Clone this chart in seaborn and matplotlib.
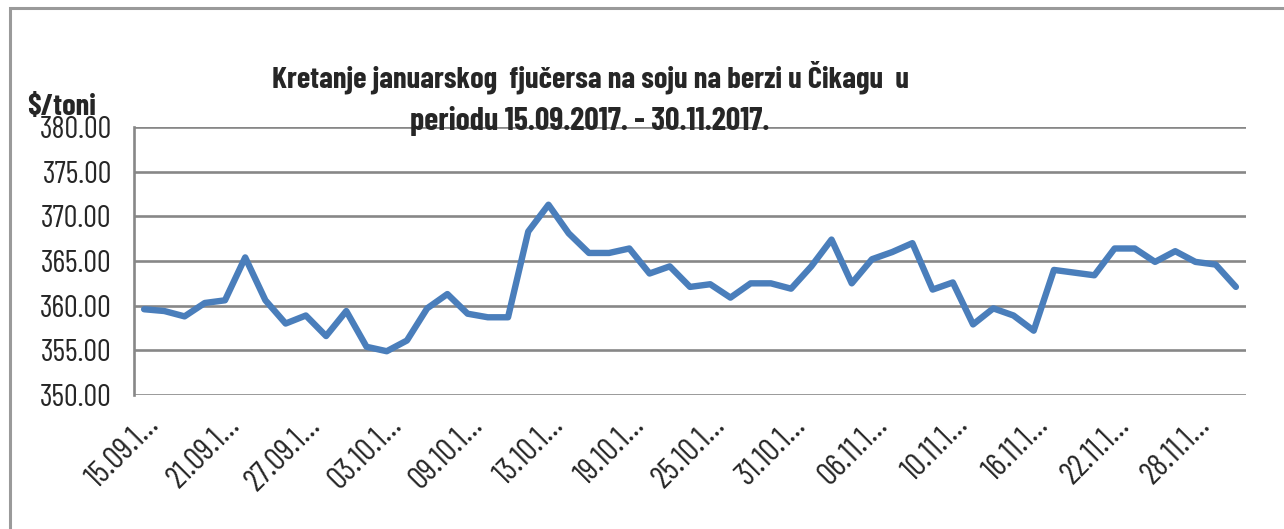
import numpy as np
import matplotlib
matplotlib.use('Agg')
import matplotlib.pyplot as plt
import seaborn as sns
from matplotlib.patches import Rectangle
from matplotlib.transforms import ScaledTranslation

# price of January soybean futures, $/t, one value per trading day
prices = [359.6, 359.4, 358.8, 360.3, 360.6, 365.4, 360.6, 358.0, 358.9, 356.6,
          359.4, 355.4, 354.9, 356.1, 359.7, 361.3, 359.1, 358.7, 358.7, 368.3,
          371.3, 368.1, 365.9, 365.9, 366.4, 363.6, 364.4, 362.1, 362.4, 360.9,
          362.5, 362.5, 361.9, 364.4, 367.4, 362.5, 365.2, 366.0, 367.0, 361.8,
          362.6, 357.9, 359.7, 358.9, 357.2, 364.0, 363.7, 363.4, 366.4, 366.4,
          364.9, 366.1, 364.9, 364.6, 362.1]
day_idx = list(range(len(prices)))
tick_pos = list(range(0, 53, 4))
tick_labels = ['15.09.1…', '21.09.1…', '27.09.1…', '03.10.1…', '09.10.1…',
               '13.10.1…', '19.10.1…', '25.10.1…', '31.10.1…', '06.11.1…',
               '10.11.1…', '16.11.1…', '22.11.1…', '28.11.1…']
y_ticks = [350, 355, 360, 365, 370, 375, 380]

sns.set_style('white')
plt.rcParams['font.family'] = ['Barlow Condensed', 'Liberation Sans', 'DejaVu Sans']

W, H = 1284, 529
fig = plt.figure(figsize=(W / 100, H / 100), dpi=100)
ax = fig.add_axes([134 / W, 1 - 395 / H, (1246 - 134) / W, (395 - 127) / H])

grid_c = '#878787'
for v in y_ticks:
    ax.axhline(v, color=grid_c, lw=1.9, zorder=1)

sns.lineplot(x=day_idx, y=prices, ax=ax, color='#4A7EBB', lw=4.6, zorder=3)

ax.set_xlim(-0.5, len(prices) - 0.5)
ax.set_ylim(350, 380)
ax.set_yticks(y_ticks)
ax.set_yticklabels([f'{v:.2f}' for v in y_ticks], fontsize=22)
ax.set_xticks(tick_pos)
ax.set_xticklabels(tick_labels, fontsize=23, rotation=45, ha='right',
                   rotation_mode='anchor')
shift = ScaledTranslation(14 / 100, 0, fig.dpi_scale_trans)
for lab in ax.get_xticklabels():
    lab.set_transform(lab.get_transform() + shift)
ax.tick_params(axis='y', length=8, width=1.9, color=grid_c, pad=8)
ax.tick_params(axis='x', length=0, pad=11)
for s in ['top', 'right', 'bottom']:
    ax.spines[s].set_visible(False)
ax.spines['left'].set_color(grid_c)
ax.spines['left'].set_linewidth(1.9)

# outer chart border (cut at right and bottom)
fig.patches.append(Rectangle((10 / W, -0.1), 1.2, 1.1 - 8 / H, transform=fig.transFigure,
                             fill=False, edgecolor='#9a9a9a', lw=2.2))

fig.text(590 / W, 1 - 88 / H, 'Kretanje januarskog  fjučersa na soju na berzi u Čikagu  u',
         ha='center', va='baseline', fontsize=22, fontweight='bold')
fig.text(590 / W, 1 - 130 / H, 'periodu 15.09.2017. - 30.11.2017.',
         ha='center', va='baseline', fontsize=23, fontweight='bold')
fig.text(27 / W, 1 - 115 / H, '$/toni', ha='left', va='baseline',
         fontsize=22, fontweight='bold')

fig.savefig('out.png', dpi=100)
